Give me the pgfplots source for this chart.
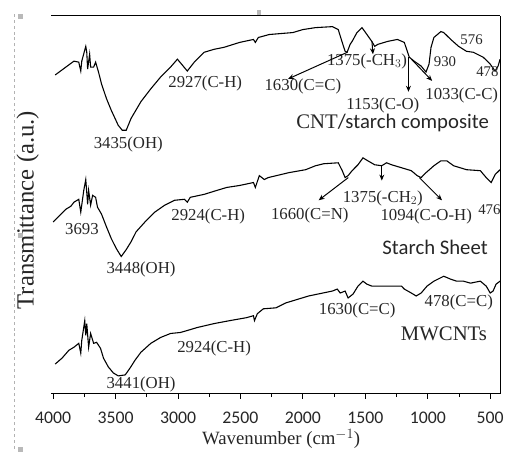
\documentclass[border=0pt]{standalone}
\usepackage{fontspec}
\setmainfont{Liberation Serif}
\newfontfamily\sans{Carlito}
\usepackage{pgfplots}
\pgfplotsset{compat=1.18}
\usetikzlibrary{arrows.meta}

\pgfplotstableread{
w t
3984 387
3834 401
3795 400
3779 391
3771 401
3739 416
3731 410
3724 393
3708 408
3700 395
3676 395
3660 400
3637 390
3613 378
3573 363
3534 351
3479 336
3447 331
3415 331
3376 343
3297 360
3218 373
3139 385
3060 395
3005 403
2926 391
2870 400
2791 410
2712 413
2633 415
2507 420
2396 423
2381 420
2357 425
2270 428
2080 430
2001 433
1899 435
1764 436
1717 433
1685 420
1662 411
1646 410
1622 418
1606 421
1567 430
1527 435
1504 431
1448 421
1425 416
1401 418
1322 421
1243 423
1188 420
1164 411
1148 405
1109 401
1053 396
1014 390
990 398
974 415
951 425
895 431
872 430
816 423
753 416
690 411
635 410
556 405
500 398
461 391
437 396
421 403
}\composite

\pgfplotstableread{
w t
4000 238
3897 251
3858 254
3834 258
3795 261
3779 248
3755 270
3739 281
3731 268
3724 256
3716 270
3700 255
3684 265
3660 263
3645 253
3613 246
3573 233
3534 221
3494 211
3455 203
3415 210
3376 218
3336 228
3265 238
3186 248
3107 255
3028 260
2949 261
2926 258
2902 263
2791 266
2689 270
2610 273
2507 275
2396 278
2381 273
2349 285
2309 281
2278 283
2112 288
1978 291
1899 295
1835 297
1717 298
1685 290
1662 283
1638 285
1606 290
1559 296
1519 303
1480 300
1425 296
1369 295
1330 298
1290 296
1211 293
1132 290
1085 285
1053 283
1014 288
951 295
895 300
848 300
793 295
690 291
579 290
532 283
492 278
461 286
421 291
}\starch

\pgfplotstableread{
w t
3984 94
3929 100
3874 108
3834 111
3795 115
3779 105
3771 118
3747 138
3739 123
3731 135
3716 111
3700 125
3676 115
3652 116
3621 110
3597 100
3558 91
3518 85
3479 82
3423 83
3384 90
3344 98
3297 106
3218 115
3139 121
3060 125
2981 126
2926 128
2847 131
2712 135
2586 138
2452 141
2396 143
2388 138
2365 145
2317 150
2215 151
2136 156
1954 163
1764 168
1725 170
1701 166
1662 168
1638 161
1598 165
1559 173
1519 178
1488 175
1448 173
1401 173
1346 173
1211 173
1188 170
1132 166
1093 163
1053 166
1006 173
951 178
872 183
816 180
769 178
714 178
658 176
579 178
532 173
500 166
477 168
453 175
421 178
}\mwcnt

\begin{document}
\begin{tikzpicture}[x=1pt,y=1pt]
\begin{axis}[
  anchor=south west,
  scale only axis, width=455pt, height=383pt,
  x dir=reverse, xmin=420, xmax=4015, ymin=64, ymax=447,
  axis line style={draw=none},
  ytick=\empty,
  xtick={500,1000,...,4000},
  minor x tick num=1,
  xtick pos=bottom,
  tick align=outside,
  major tick length=5pt, minor tick length=3.5pt,
  tick style={line width=1pt, black},
  every x tick label/.append style={font=\sans\fontsize{18}{18}\selectfont, yshift=-10pt, text=black!85},
  /pgf/number format/assume math mode=true,
  /pgf/number format/set thousands separator={},
  clip=false,
]
\addplot[black, line width=1.1pt] table[x=w,y=t] {\composite};
\addplot[black, line width=1.1pt] table[x=w,y=t] {\starch};
\addplot[black, line width=1.1pt] table[x=w,y=t] {\mwcnt};
\draw[line width=1.2pt] (rel axis cs:1,0) -- (rel axis cs:0,0);
\draw[line width=1.2pt] (rel axis cs:0,1) -- (rel axis cs:1,1);
\draw[line width=1.2pt] (rel axis cs:1,0) -- (rel axis cs:1,1);
\end{axis}
\begin{scope}[shift={(-52,-64)}]
\useasboundingbox (0,0) rectangle (507,463);
% screenshot frame artefacts
\draw[gray!60, dashed, line width=0.6pt] (14,8) -- (14,450);
\fill[gray!55] (18,444) rectangle (23,449);
\fill[gray!55] (260,448) rectangle (265,453);
\fill[gray!55] (18,222) rectangle (23,227);
\fill[gray!55] (18,5) rectangle (23,10);
% axis labels
\node[font=\fontsize{19}{19}\selectfont, text=black!85, anchor=base, inner sep=0pt] at (285,12) {Wavenumber (cm$^{-1}$)};
\node[font=\fontsize{25}{25}\selectfont, rotate=90, text=black!85] at (28,250) {Transmittance (a.u.)};
\begin{scope}[every node/.style={font=\fontsize{17}{17}\selectfont, inner sep=0pt, text=black!85}]
% CNT/starch composite
\node at (130,317) {3435(OH)};
\node at (208,378) {2927(C-H)};
\node at (307,375) {1630(C=C)};
\node at (372,401) {1375(-CH$_3$)};
\node at (388,356) {1153(C-O)};
\node[font=\fontsize{15}{15}\selectfont] at (451,401) {930};
\node at (468,366) {1033(C-C)};
\node[font=\fontsize{15}{15}\selectfont] at (478,423) {576};
\node[font=\fontsize{15}{15}\selectfont] at (494,390) {478};
\node[font=\fontsize{21}{21}\selectfont] at (398,338) {CNT{\sans/starch composite}};
% starch sheet
\node at (83,231) {3693};
\node at (143,190) {3448(OH)};
\node at (211,244) {2924(C-H)};
\node at (314,245) {1660(C=N)};
\node at (388,262) {1375(-CH$_2$)};
\node at (432,244) {1094(C-O-H)};
\node[font=\fontsize{15}{15}\selectfont] at (496,250) {476};
\node[font=\sans\fontsize{21}{21}\selectfont] at (441,212) {Starch Sheet};
% MWCNTs
\node at (143,73) {3441(OH)};
\node at (217,110) {2924(C-H)};
\node at (362,148) {1630(C=C)};
\node at (465,156) {478(C=C)};
\node[font=\fontsize{21}{21}\selectfont] at (450,125) {MWCNTs};
\end{scope}
% arrows
\begin{scope}[line width=1pt, -{Stealth[length=6pt,width=5pt]}]
\draw (352,410) -- (292,383);
\draw (377,421) -- (378,408);
\draw (414,405) -- (414,370);
\draw (417,403) -- (438,381);
\draw (353,283) -- (323,260);
\draw (387,296) -- (387,280);
\draw (425,283) -- (448,260);
\end{scope}
\end{scope}
\end{tikzpicture}
\end{document}
